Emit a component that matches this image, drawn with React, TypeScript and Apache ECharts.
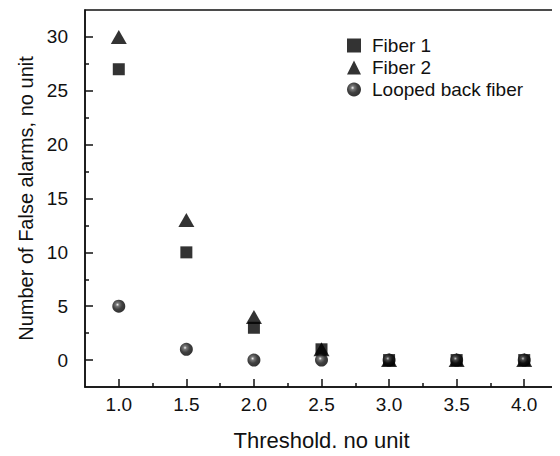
import React, { useEffect, useRef } from "react";
import * as echarts from "echarts";

const thresholds = [1.0, 1.5, 2.0, 2.5, 3.0, 3.5, 4.0];
const fiber1 = [27, 10, 3, 1, 0, 0, 0];
const fiber2 = [30, 13, 4, 1, 0, 0, 0];
const looped = [5, 1, 0, 0, 0, 0, 0];
const xMajor = [1.0, 1.5, 2.0, 2.5, 3.0, 3.5, 4.0];
const xMinor = [1.25, 1.75, 2.25, 2.75, 3.25, 3.75];
const yMajor = [0, 5, 10, 15, 20, 25, 30];
const yMinor = [2.5, 7.5, 12.5, 17.5, 22.5, 27.5];

const FONT = "'Liberation Sans', Arial, sans-serif";

export default function App() {
  const ref = useRef<HTMLDivElement>(null);
  useEffect(() => {
    const chart = echarts.init(ref.current!, null, { renderer: "svg" });
    const sphere = {
      type: "radial",
      x: 0.4,
      y: 0.38,
      r: 0.6,
      colorStops: [
        { offset: 0, color: "#f4f4f4" },
        { offset: 0.22, color: "#555" },
        { offset: 0.6, color: "#111" },
        { offset: 1, color: "#000" },
      ],
    };
    const pair = (arr: number[]) => thresholds.map((t, i) => [t, arr[i]]);
    const axisBase = {
      type: "value",
      splitLine: { show: false },
    };
    chart.setOption({
      animation: false,
      backgroundColor: "#fff",
      textStyle: { fontFamily: FONT },
      grid: {
        left: 85,
        top: 10,
        right: 2,
        bottom: 65,
        show: true,
        borderColor: "#111",
        borderWidth: 1.5,
        backgroundColor: "transparent",
      },
      legend: {
        orient: "vertical",
        left: 342,
        top: 31,
        itemGap: 3,
        itemWidth: 14,
        itemHeight: 14,
        textStyle: { fontFamily: FONT, fontSize: 19, color: "#111", padding: [0, 0, 0, 6] },
        data: ["Fiber 1", "Fiber 2", "Looped back fiber"],
      },
      xAxis: [
        {
          ...axisBase,
          min: 0.75,
          max: 4.25,
          name: "Threshold, no unit",
          nameLocation: "middle",
          nameGap: 42,
          nameTextStyle: { fontFamily: FONT, fontSize: 22, color: "#111" },
          axisLine: { show: true, onZero: false, lineStyle: { color: "#111", width: 1.5 } },
          axisTick: { show: true, inside: true, length: 8, customValues: xMajor, lineStyle: { color: "#111", width: 1.5 } },
          axisLabel: {
            customValues: xMajor,
            formatter: (v: number) => v.toFixed(1),
            fontFamily: FONT,
            fontSize: 19,
            color: "#111",
            margin: 8,
          },
        },
        {
          ...axisBase,
          min: 0.75,
          max: 4.25,
          position: "bottom",
          axisLine: { show: false, onZero: false },
          axisTick: { show: true, inside: true, length: 4, customValues: xMinor, lineStyle: { color: "#111", width: 1.5 } },
          axisLabel: { show: false },
        },
      ],
      yAxis: [
        {
          ...axisBase,
          min: -2.5,
          max: 32.5,
          name: "Number of False alarms, no unit",
          nameLocation: "middle",
          nameGap: 48,
          nameTextStyle: { fontFamily: FONT, fontSize: 20, color: "#111" },
          axisLine: { show: true, onZero: false, lineStyle: { color: "#111", width: 1.5 } },
          axisTick: { show: true, inside: true, length: 8, customValues: yMajor, lineStyle: { color: "#111", width: 1.5 } },
          axisLabel: {
            customValues: yMajor,
            fontFamily: FONT,
            fontSize: 19,
            color: "#111",
            margin: 17,
          },
        },
        {
          ...axisBase,
          min: -2.5,
          max: 32.5,
          position: "left",
          axisLine: { show: false, onZero: false },
          axisTick: { show: true, inside: true, length: 4, customValues: yMinor, lineStyle: { color: "#111", width: 1.5 } },
          axisLabel: { show: false },
        },
      ],
      series: [
        {
          name: "Fiber 1",
          type: "scatter",
          symbol: "rect",
          symbolSize: 12,
          itemStyle: { color: "#000" },
          data: pair(fiber1),
          z: 3,
        },
        {
          name: "Fiber 2",
          type: "scatter",
          symbol: "triangle",
          symbolSize: [16, 14],
          itemStyle: { color: "#000" },
          data: pair(fiber2),
          z: 2,
        },
        {
          name: "Looped back fiber",
          type: "scatter",
          symbol: "circle",
          symbolSize: 13,
          itemStyle: { color: sphere },
          data: pair(looped),
          z: 4,
        },
      ],
    });
    return () => chart.dispose();
  }, []);
  return <div ref={ref} style={{ width: 560, height: 456, margin: -8 }} />;
}
